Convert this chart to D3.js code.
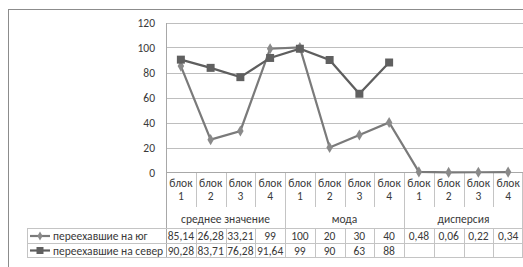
<!DOCTYPE html>
<html>
<head>
<meta charset="utf-8">
<script src="https://cdn.jsdelivr.net/npm/d3@7"></script>
<style>
  body { margin: 0; background: #fff; }
  text { font-family: Carlito, Calibri, "Open Sans", sans-serif; fill: #3a3a3a; }
</style>
</head>
<body>
<script>
const blocks = ['блок 1', 'блок 2', 'блок 3', 'блок 4']
const groups = ['среднее значение', 'мода', 'дисперсия']
const seriesNames = ['переехавшие на юг', 'переехавшие на север']
const southValues = [85.14, 26.28, 33.21, 99, 100, 20, 30, 40, 0.48, 0.06, 0.22, 0.34]
const northValues = [90.28, 83.71, 76.28, 91.64, 99, 90, 63, 88, null, null, null, null]
const yTicks = [0, 20, 40, 60, 80, 100, 120]

const width = 523
const height = 267
const margin = { top: 22.5, left: 166, right: 0 }
const axisY = 172.5
const fs = '11.5px'

// one entry per column
const cats = []
groups.forEach((g, gi) => blocks.forEach((b, bi) => cats.push({ id: gi + '-' + bi, group: g, block: b, gi, bi })))

const fmt = v => v == null ? '' : String(v).replace('.', ',')

const svg = d3.select('body')
    .append('svg')
    .attr('width', width)
    .attr('height', height)

// chart frame
svg.append('rect')
    .attr('x', 8.5).attr('y', 9.5)
    .attr('width', 530).attr('height', 280)
    .attr('fill', 'none')
    .attr('stroke', '#8c8c8c')

const x = d3.scaleBand()
    .domain(cats.map(d => d.id))
    .range([margin.left, width - margin.right])

const y = d3.scaleLinear()
    .domain([0, 120])
    .range([axisY, margin.top])

// gridlines
svg.append('g')
    .selectAll('line')
    .data(yTicks.filter(t => t > 0))
    .join('line')
    .attr('x1', margin.left).attr('x2', width)
    .attr('y1', d => Math.round(y(d)) + 0.5).attr('y2', d => Math.round(y(d)) + 0.5)
    .attr('stroke', '#bebebe')

// y labels
svg.append('g')
    .selectAll('text')
    .data(yTicks)
    .join('text')
    .attr('x', 155)
    .attr('y', d => y(d) + 4)
    .attr('text-anchor', 'end')
    .style('font-size', fs)
    .text(d => d)

// axis + table lines
const lineColor = '#c4c4c4'
const tableTop = 228.5, rowMid = 243.5, tableBottom = 257.5
const lines = svg.append('g').attr('stroke', lineColor).attr('shape-rendering', 'crispEdges')

lines.append('line').attr('x1', margin.left).attr('x2', width).attr('y1', axisY).attr('y2', axisY).attr('stroke', '#a8a8a8')
lines.append('line').attr('x1', margin.left + 0.5).attr('x2', margin.left + 0.5).attr('y1', margin.top).attr('y2', tableBottom).attr('stroke', '#a8a8a8')

// block separators
cats.forEach((c, i) => {
    if (i === 0) return
    const xx = Math.round(x(c.id)) + 0.5
    const groupEdge = c.bi === 0
    lines.append('line')
        .attr('x1', xx).attr('x2', xx)
        .attr('y1', axisY).attr('y2', groupEdge ? tableBottom : 207)
    if (!groupEdge) {
        lines.append('line')
            .attr('x1', xx).attr('x2', xx)
            .attr('y1', tableTop).attr('y2', tableBottom)
    }
})
lines.append('line').attr('x1', width - 0.5).attr('x2', width - 0.5).attr('y1', axisY).attr('y2', tableBottom)

// table rows
;[tableTop, rowMid, tableBottom].forEach(yy => {
    lines.append('line').attr('x1', 27).attr('x2', width).attr('y1', yy).attr('y2', yy)
})
lines.append('line').attr('x1', 27.5).attr('x2', 27.5).attr('y1', tableTop).attr('y2', tableBottom)

// category labels
const catLabels = svg.append('g').style('font-size', fs).attr('text-anchor', 'middle')
cats.forEach(c => {
    const cx = x(c.id) + x.bandwidth() / 2
    const parts = c.block.split(' ')
    catLabels.append('text').attr('x', cx).attr('y', 187).text(parts[0])
    catLabels.append('text').attr('x', cx).attr('y', 200).text(parts[1])
})
groups.forEach((g, gi) => {
    const x0 = x(gi + '-0'), x1 = x(gi + '-3') + x.bandwidth()
    catLabels.append('text').attr('x', (x0 + x1) / 2).attr('y', 223).text(g)
})

// series
const series = [
    { name: seriesNames[0], values: southValues, color: '#7a7a7a', marker: 'diamond' },
    { name: seriesNames[1], values: northValues, color: '#5e5e5e', marker: 'square' }
]

const line = d3.line()
    .defined(d => d.v != null)
    .x(d => x(d.id) + x.bandwidth() / 2)
    .y(d => y(d.v))

series.forEach((s, si) => {
    const pts = cats.map((c, i) => ({ id: c.id, v: s.values[i] }))
    const g = svg.append('g')
    g.append('path')
        .datum(pts)
        .attr('d', line)
        .attr('fill', 'none')
        .attr('stroke', s.color)
        .attr('stroke-width', 2.2)
    const sym = d3.symbol().type(s.marker === 'square' ? d3.symbolSquare : d3.symbolDiamond).size(s.marker === 'square' ? 64 : 36)
    g.selectAll('path.m')
        .data(pts.filter(d => d.v != null))
        .join('path')
        .attr('class', 'm')
        .attr('transform', d => `translate(${x(d.id) + x.bandwidth() / 2},${y(d.v)})`)
        .attr('d', sym)
        .attr('fill', s.marker === 'square' ? '#606060' : '#8a8a8a')

    // table row
    const ry = si === 0 ? 240 : 254.5
    const rowMidY = si === 0 ? 236 : 250.5
    g.append('line')
        .attr('x1', 30).attr('x2', 50)
        .attr('y1', rowMidY).attr('y2', rowMidY)
        .attr('stroke', s.color).attr('stroke-width', 2.2)
    g.append('path')
        .attr('transform', `translate(40,${rowMidY})`)
        .attr('d', d3.symbol().type(s.marker === 'square' ? d3.symbolSquare : d3.symbolDiamond).size(s.marker === 'square' ? 49 : 24))
        .attr('fill', s.marker === 'square' ? '#606060' : '#8a8a8a')
    g.append('text')
        .attr('x', 53).attr('y', ry)
        .style('font-size', fs)
        .text(s.name)
    g.selectAll('text.v')
        .data(pts)
        .join('text')
        .attr('class', 'v')
        .attr('x', d => x(d.id) + x.bandwidth() / 2)
        .attr('y', ry)
        .attr('text-anchor', 'middle')
        .style('font-size', fs)
        .text(d => fmt(d.v))
})
</script>
</body>
</html>
